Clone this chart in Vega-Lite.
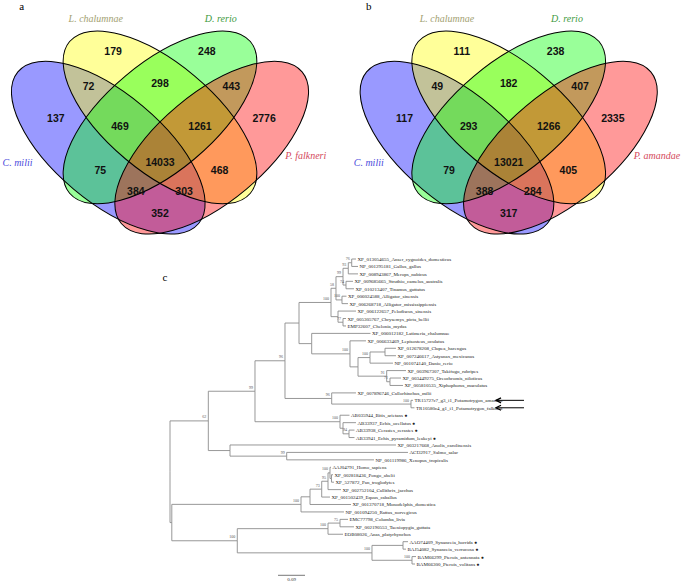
{
  "$schema": "https://vega.github.io/schema/vega-lite/v6.json",
  "padding": 0,
  "background": "white",
  "spacing": 0,
  "config": {"view": {"stroke": null}},
  "vconcat": [
    {
      "bounds": "flush",
      "spacing": 0,
      "resolve": {"scale": {"x": "independent", "y": "independent", "fill": "independent", "color": "independent"}},
      "hconcat": [
        {
          "width": 342, "height": 250,
          "encoding": {
            "x": {"field": "u", "type": "quantitative", "scale": {"domain": [0.036, 1.0279], "nice": false, "zero": false}, "axis": null},
            "y": {"field": "v", "type": "quantitative", "scale": {"domain": [0.129, 0.9541], "nice": false, "zero": false}, "axis": null}
          },
          "layer": [
            {
              "data": {"values": [{"u": 0.35, "v": 0.47, "set": "C. milii"}, {"u": 0.5, "v": 0.57, "set": "L. chalumnae"}]},
              "mark": {"type": "point", "shape": "M 1 0 C 1 0.2527 0.5523 0.4576 0 0.4576 C -0.5523 0.4576 -1 0.2527 -1 0 C -1 -0.2527 -0.5523 -0.4576 0 -0.4576 C 0.5523 -0.4576 1 -0.2527 1 0 Z", "size": 55696, "angle": 40, "filled": true, "fillOpacity": 0.4, "opacity": 1, "strokeOpacity": 0},
              "encoding": {"fill": {"field": "set", "type": "nominal", "scale": {"domain": ["C. milii", "L. chalumnae", "D. rerio", "P. falkneri"], "range": ["#0000ff", "#ffff00", "#00ff00", "#ff0000"]}, "legend": null}}
            },
            {
              "data": {"values": [{"u": 0.5, "v": 0.57, "set": "D. rerio"}, {"u": 0.65, "v": 0.47, "set": "P. falkneri"}]},
              "mark": {"type": "point", "shape": "M 1 0 C 1 0.2527 0.5523 0.4576 0 0.4576 C -0.5523 0.4576 -1 0.2527 -1 0 C -1 -0.2527 -0.5523 -0.4576 0 -0.4576 C 0.5523 -0.4576 1 -0.2527 1 0 Z", "size": 55696, "angle": -40, "filled": true, "fillOpacity": 0.4, "opacity": 1, "strokeOpacity": 0},
              "encoding": {"fill": {"field": "set", "type": "nominal", "scale": {"domain": ["C. milii", "L. chalumnae", "D. rerio", "P. falkneri"], "range": ["#0000ff", "#ffff00", "#00ff00", "#ff0000"]}, "legend": null}}
            },
            {
              "data": {"values": [{"u": 0.35, "v": 0.47, "set": "C. milii"}, {"u": 0.5, "v": 0.57, "set": "L. chalumnae"}]},
              "mark": {"type": "point", "shape": "M 1 0 C 1 0.2527 0.5523 0.4576 0 0.4576 C -0.5523 0.4576 -1 0.2527 -1 0 C -1 -0.2527 -0.5523 -0.4576 0 -0.4576 C 0.5523 -0.4576 1 -0.2527 1 0 Z", "size": 55696, "angle": 40, "filled": false, "stroke": "#000000", "strokeWidth": 1, "opacity": 1}
            },
            {
              "data": {"values": [{"u": 0.5, "v": 0.57, "set": "D. rerio"}, {"u": 0.65, "v": 0.47, "set": "P. falkneri"}]},
              "mark": {"type": "point", "shape": "M 1 0 C 1 0.2527 0.5523 0.4576 0 0.4576 C -0.5523 0.4576 -1 0.2527 -1 0 C -1 -0.2527 -0.5523 -0.4576 0 -0.4576 C 0.5523 -0.4576 1 -0.2527 1 0 Z", "size": 55696, "angle": -40, "filled": false, "stroke": "#000000", "strokeWidth": 1, "opacity": 1}
            },
            {
              "data": {"values": [
                {"u": 0.364, "v": 0.7868, "n": "179"}, {"u": 0.636, "v": 0.7868, "n": "248"},
                {"u": 0.293, "v": 0.6703, "n": "72"}, {"u": 0.5, "v": 0.6792, "n": "298"}, {"u": 0.707, "v": 0.6703, "n": "443"},
                {"u": 0.198, "v": 0.5653, "n": "137"}, {"u": 0.384, "v": 0.5383, "n": "469"}, {"u": 0.616, "v": 0.5383, "n": "1261"}, {"u": 0.802, "v": 0.5653, "n": "2776"},
                {"u": 0.5, "v": 0.4185, "n": "14033"}, {"u": 0.327, "v": 0.3931, "n": "75"}, {"u": 0.673, "v": 0.3931, "n": "468"},
                {"u": 0.43, "v": 0.3224, "n": "384"}, {"u": 0.57, "v": 0.3224, "n": "303"}, {"u": 0.5, "v": 0.2502, "n": "352"}
              ]},
              "mark": {"type": "text", "font": "Liberation Sans", "fontSize": 10.5, "fontWeight": "bold", "color": "#111111", "align": "center", "baseline": "middle"},
              "encoding": {"text": {"field": "n", "type": "nominal"}}
            },
            {
              "data": {"values": [
                {"u": 0.0867, "v": 0.4205, "lab": "C. milii"}, {"u": 0.3138, "v": 0.8937, "lab": "L. chalumnae"},
                {"u": 0.6763, "v": 0.8937, "lab": "D. rerio"}, {"u": 0.9229, "v": 0.4426, "lab": "P. falkneri"}
              ]},
              "mark": {"type": "text", "font": "Liberation Serif", "fontSize": 10, "fontStyle": "italic", "align": "center", "baseline": "middle"},
              "encoding": {
                "text": {"field": "lab", "type": "nominal"},
                "color": {"field": "lab", "type": "nominal", "scale": {"domain": ["C. milii", "L. chalumnae", "D. rerio", "P. falkneri"], "range": ["#4b4bdc", "#a39f72", "#3f9b3f", "#d44a5c"]}, "legend": null}
              }
            },
            {
              "data": {"values": [{"u": 0.0989, "v": 0.9343, "t": "a"}]},
              "mark": {"type": "text", "font": "Liberation Serif", "fontSize": 11, "color": "#000000", "align": "center", "baseline": "middle"},
              "encoding": {"text": {"field": "t", "type": "nominal"}}
            }
          ]
        },
        {
          "width": 343, "height": 250,
          "encoding": {
            "x": {"field": "u", "type": "quantitative", "scale": {"domain": [0.01653, 1.01131], "nice": false, "zero": false}, "axis": null},
            "y": {"field": "v", "type": "quantitative", "scale": {"domain": [0.129, 0.9541], "nice": false, "zero": false}, "axis": null}
          },
          "layer": [
            {
              "data": {"values": [{"u": 0.35, "v": 0.47, "set": "C. milii"}, {"u": 0.5, "v": 0.57, "set": "L. chalumnae"}]},
              "mark": {"type": "point", "shape": "M 1 0 C 1 0.2527 0.5523 0.4576 0 0.4576 C -0.5523 0.4576 -1 0.2527 -1 0 C -1 -0.2527 -0.5523 -0.4576 0 -0.4576 C 0.5523 -0.4576 1 -0.2527 1 0 Z", "size": 55696, "angle": 40, "filled": true, "fillOpacity": 0.4, "opacity": 1, "strokeOpacity": 0},
              "encoding": {"fill": {"field": "set", "type": "nominal", "scale": {"domain": ["C. milii", "L. chalumnae", "D. rerio", "P. amandae"], "range": ["#0000ff", "#ffff00", "#00ff00", "#ff0000"]}, "legend": null}}
            },
            {
              "data": {"values": [{"u": 0.5, "v": 0.57, "set": "D. rerio"}, {"u": 0.65, "v": 0.47, "set": "P. amandae"}]},
              "mark": {"type": "point", "shape": "M 1 0 C 1 0.2527 0.5523 0.4576 0 0.4576 C -0.5523 0.4576 -1 0.2527 -1 0 C -1 -0.2527 -0.5523 -0.4576 0 -0.4576 C 0.5523 -0.4576 1 -0.2527 1 0 Z", "size": 55696, "angle": -40, "filled": true, "fillOpacity": 0.4, "opacity": 1, "strokeOpacity": 0},
              "encoding": {"fill": {"field": "set", "type": "nominal", "scale": {"domain": ["C. milii", "L. chalumnae", "D. rerio", "P. amandae"], "range": ["#0000ff", "#ffff00", "#00ff00", "#ff0000"]}, "legend": null}}
            },
            {
              "data": {"values": [{"u": 0.35, "v": 0.47, "set": "C. milii"}, {"u": 0.5, "v": 0.57, "set": "L. chalumnae"}]},
              "mark": {"type": "point", "shape": "M 1 0 C 1 0.2527 0.5523 0.4576 0 0.4576 C -0.5523 0.4576 -1 0.2527 -1 0 C -1 -0.2527 -0.5523 -0.4576 0 -0.4576 C 0.5523 -0.4576 1 -0.2527 1 0 Z", "size": 55696, "angle": 40, "filled": false, "stroke": "#000000", "strokeWidth": 1, "opacity": 1}
            },
            {
              "data": {"values": [{"u": 0.5, "v": 0.57, "set": "D. rerio"}, {"u": 0.65, "v": 0.47, "set": "P. amandae"}]},
              "mark": {"type": "point", "shape": "M 1 0 C 1 0.2527 0.5523 0.4576 0 0.4576 C -0.5523 0.4576 -1 0.2527 -1 0 C -1 -0.2527 -0.5523 -0.4576 0 -0.4576 C 0.5523 -0.4576 1 -0.2527 1 0 Z", "size": 55696, "angle": -40, "filled": false, "stroke": "#000000", "strokeWidth": 1, "opacity": 1}
            },
            {
              "data": {"values": [
                {"u": 0.364, "v": 0.7868, "n": "111"}, {"u": 0.636, "v": 0.7868, "n": "238"},
                {"u": 0.293, "v": 0.6703, "n": "49"}, {"u": 0.5, "v": 0.6792, "n": "182"}, {"u": 0.707, "v": 0.6703, "n": "407"},
                {"u": 0.198, "v": 0.5653, "n": "117"}, {"u": 0.384, "v": 0.5383, "n": "293"}, {"u": 0.616, "v": 0.5383, "n": "1266"}, {"u": 0.802, "v": 0.5653, "n": "2335"},
                {"u": 0.5, "v": 0.4185, "n": "13021"}, {"u": 0.327, "v": 0.3931, "n": "79"}, {"u": 0.673, "v": 0.3931, "n": "405"},
                {"u": 0.43, "v": 0.3224, "n": "388"}, {"u": 0.57, "v": 0.3224, "n": "284"}, {"u": 0.5, "v": 0.2502, "n": "317"}
              ]},
              "mark": {"type": "text", "font": "Liberation Sans", "fontSize": 10.5, "fontWeight": "bold", "color": "#111111", "align": "center", "baseline": "middle"},
              "encoding": {"text": {"field": "n", "type": "nominal"}}
            },
            {
              "data": {"values": [
                {"u": 0.094, "v": 0.4205, "lab": "C. milii"}, {"u": 0.321, "v": 0.8937, "lab": "L. chalumnae"},
                {"u": 0.669, "v": 0.8937, "lab": "D. rerio"}, {"u": 0.93, "v": 0.4426, "lab": "P. amandae"}
              ]},
              "mark": {"type": "text", "font": "Liberation Serif", "fontSize": 10, "fontStyle": "italic", "align": "center", "baseline": "middle"},
              "encoding": {
                "text": {"field": "lab", "type": "nominal"},
                "color": {"field": "lab", "type": "nominal", "scale": {"domain": ["C. milii", "L. chalumnae", "D. rerio", "P. amandae"], "range": ["#4b4bdc", "#a39f72", "#3f9b3f", "#d44a5c"]}, "legend": null}
              }
            },
            {
              "data": {"values": [{"u": 0.094, "v": 0.9343, "t": "b"}]},
              "mark": {"type": "text", "font": "Liberation Serif", "fontSize": 11, "color": "#000000", "align": "center", "baseline": "middle"},
              "encoding": {"text": {"field": "t", "type": "nominal"}}
            }
          ]
        }
      ]
    },
    {
      "width": 685, "height": 333,
      "encoding": {
        "x": {"field": "x", "type": "quantitative", "scale": {"domain": [-0.5667, 1.7167], "nice": false, "zero": false}, "axis": null},
        "y": {"field": "y", "type": "quantitative", "scale": {"domain": [-0.0754, 44.688], "nice": false, "zero": false, "reverse": true}, "axis": null}
      },
      "layer": [
        {
          "data": {"name": "edges", "values": [
            {"px": 0, "py": 29.6, "cx": 0.1277, "cy": 22.764}, {"px": 0, "py": 29.6, "cx": 0.006, "cy": 36.43},
            {"px": 0.1277, "py": 22.764, "cx": 0.2833, "cy": 18.777}, {"px": 0.1277, "py": 22.764, "cx": 0.2, "cy": 26.75},
            {"px": 0.2833, "py": 18.777, "cx": 0.3833, "cy": 14.68}, {"px": 0.2833, "py": 18.777, "cx": 0.5667, "cy": 22.875},
            {"px": 0.3833, "py": 14.68, "cx": 0.43, "cy": 9.609}, {"px": 0.3833, "py": 14.68, "cx": 0.539, "cy": 19.75},
            {"px": 0.43, "py": 9.609, "cx": 0.5367, "cy": 6.844}, {"px": 0.43, "py": 9.609, "cx": 0.4723, "cy": 12.375},
            {"px": 0.5367, "py": 6.844, "cx": 0.5533, "cy": 4.938}, {"px": 0.5367, "py": 6.844, "cx": 0.56, "cy": 8.75},
            {"px": 0.5533, "py": 4.938, "cx": 0.5767, "cy": 3.375}, {"px": 0.5533, "py": 4.938, "cx": 0.5733, "cy": 6.5},
            {"px": 0.5767, "py": 3.375, "cx": 0.5943, "cy": 2.25}, {"px": 0.5767, "py": 3.375, "cx": 0.5867, "cy": 4.5},
            {"px": 0.5943, "py": 2.25, "cx": 0.6057, "cy": 1.5}, {"px": 0.5943, "py": 2.25, "cx": 0.6267, "cy": 3},
            {"px": 0.6057, "py": 1.5, "cx": 0.62, "cy": 1}, {"px": 0.6057, "py": 1.5, "cx": 0.6267, "cy": 2},
            {"px": 0.5867, "py": 4.5, "cx": 0.61, "cy": 4}, {"px": 0.5867, "py": 4.5, "cx": 0.6133, "cy": 5},
            {"px": 0.5733, "py": 6.5, "cx": 0.5883, "cy": 6}, {"px": 0.5733, "py": 6.5, "cx": 0.5933, "cy": 7},
            {"px": 0.56, "py": 8.75, "cx": 0.62, "cy": 8}, {"px": 0.56, "py": 8.75, "cx": 0.5767, "cy": 9.5},
            {"px": 0.5767, "py": 9.5, "cx": 0.5867, "cy": 9}, {"px": 0.5767, "py": 9.5, "cx": 0.5867, "cy": 10},
            {"px": 0.4723, "py": 12.375, "cx": 0.6683, "cy": 11}, {"px": 0.4723, "py": 12.375, "cx": 0.6, "cy": 13.75},
            {"px": 0.6, "py": 13.75, "cx": 0.6533, "cy": 12}, {"px": 0.6, "py": 13.75, "cx": 0.6267, "cy": 15.5},
            {"px": 0.6267, "py": 15.5, "cx": 0.6667, "cy": 14.25}, {"px": 0.6267, "py": 15.5, "cx": 0.7223, "cy": 16.75},
            {"px": 0.6667, "py": 14.25, "cx": 0.7167, "cy": 13.5}, {"px": 0.6667, "py": 14.25, "cx": 0.7433, "cy": 15},
            {"px": 0.7167, "py": 13.5, "cx": 0.7533, "cy": 13}, {"px": 0.7167, "py": 13.5, "cx": 0.7533, "cy": 14},
            {"px": 0.7223, "py": 16.75, "cx": 0.7867, "cy": 16}, {"px": 0.7223, "py": 16.75, "cx": 0.7333, "cy": 17.5},
            {"px": 0.7333, "py": 17.5, "cx": 0.77, "cy": 17}, {"px": 0.7333, "py": 17.5, "cx": 0.7767, "cy": 18},
            {"px": 0.539, "py": 19.75, "cx": 0.62, "cy": 19}, {"px": 0.539, "py": 19.75, "cx": 0.8033, "cy": 20.5},
            {"px": 0.8033, "py": 20.5, "cx": 0.81, "cy": 20}, {"px": 0.8033, "py": 20.5, "cx": 0.815, "cy": 21},
            {"px": 0.5667, "py": 22.875, "cx": 0.5983, "cy": 22}, {"px": 0.5667, "py": 22.875, "cx": 0.5767, "cy": 23.75},
            {"px": 0.5767, "py": 23.75, "cx": 0.62, "cy": 23}, {"px": 0.5767, "py": 23.75, "cx": 0.5967, "cy": 24.5},
            {"px": 0.5967, "py": 24.5, "cx": 0.615, "cy": 24}, {"px": 0.5967, "py": 24.5, "cx": 0.615, "cy": 25},
            {"px": 0.2, "py": 26.75, "cx": 0.7533, "cy": 26}, {"px": 0.2, "py": 26.75, "cx": 0.389, "cy": 27.5},
            {"px": 0.389, "py": 27.5, "cx": 0.7933, "cy": 27}, {"px": 0.389, "py": 27.5, "cx": 0.68, "cy": 28},
            {"px": 0.006, "py": 36.43, "cx": 0.4367, "cy": 33.984}, {"px": 0.006, "py": 36.43, "cx": 0.2243, "cy": 38.875},
            {"px": 0.4367, "py": 33.984, "cx": 0.4667, "cy": 32.969}, {"px": 0.4367, "py": 33.984, "cx": 0.58, "cy": 35},
            {"px": 0.4667, "py": 32.969, "cx": 0.5057, "cy": 31.938}, {"px": 0.4667, "py": 32.969, "cx": 0.6033, "cy": 34},
            {"px": 0.5057, "py": 31.938, "cx": 0.5267, "cy": 30.875}, {"px": 0.5057, "py": 31.938, "cx": 0.5333, "cy": 33},
            {"px": 0.5267, "py": 30.875, "cx": 0.5333, "cy": 29.75}, {"px": 0.5267, "py": 30.875, "cx": 0.57, "cy": 32},
            {"px": 0.5333, "py": 29.75, "cx": 0.5367, "cy": 29}, {"px": 0.5333, "py": 29.75, "cx": 0.5383, "cy": 30.5},
            {"px": 0.5383, "py": 30.5, "cx": 0.5433, "cy": 30}, {"px": 0.5383, "py": 30.5, "cx": 0.5467, "cy": 31},
            {"px": 0.2243, "py": 38.875, "cx": 0.5267, "cy": 37.25}, {"px": 0.2243, "py": 38.875, "cx": 0.6733, "cy": 40.5},
            {"px": 0.5267, "py": 37.25, "cx": 0.5667, "cy": 36.5}, {"px": 0.5267, "py": 37.25, "cx": 0.5767, "cy": 38},
            {"px": 0.5667, "py": 36.5, "cx": 0.5933, "cy": 36}, {"px": 0.5667, "py": 36.5, "cx": 0.6133, "cy": 37},
            {"px": 0.6733, "py": 40.5, "cx": 0.7767, "cy": 39.5}, {"px": 0.6733, "py": 40.5, "cx": 0.8067, "cy": 41.5},
            {"px": 0.7767, "py": 39.5, "cx": 0.7933, "cy": 39}, {"px": 0.7767, "py": 39.5, "cx": 0.7867, "cy": 40},
            {"px": 0.8067, "py": 41.5, "cx": 0.82, "cy": 41}, {"px": 0.8067, "py": 41.5, "cx": 0.8167, "cy": 42}
          ]},
          "mark": {"type": "rule", "color": "#8c8c8c", "strokeWidth": 0.9},
          "encoding": {
            "x": {"field": "px", "type": "quantitative"},
            "x2": {"field": "cx"},
            "y": {"field": "cy", "type": "quantitative"}
          }
        },
        {
          "data": {"name": "edges"},
          "mark": {"type": "rule", "color": "#8c8c8c", "strokeWidth": 0.9},
          "encoding": {
            "x": {"field": "px", "type": "quantitative"},
            "y": {"field": "py", "type": "quantitative"},
            "y2": {"field": "cy"}
          }
        },
        {
          "data": {"values": [
            {"name": "XP_013054655_Anser_cygnoides_domesticus", "x": 0.62, "y": 1},
            {"name": "NP_001295181_Gallus_gallus", "x": 0.6267, "y": 2},
            {"name": "XP_008943867_Merops_nubicus", "x": 0.6267, "y": 3},
            {"name": "XP_009685665_Struthio_camelus_australis", "x": 0.61, "y": 4},
            {"name": "XP_010213407_Tinamus_guttatus", "x": 0.6133, "y": 5},
            {"name": "XP_006024588_Alligator_sinensis", "x": 0.5883, "y": 6},
            {"name": "XP_006268718_Alligator_mississippiensis", "x": 0.5933, "y": 7},
            {"name": "XP_006122657_Pelodiscus_sinensis", "x": 0.62, "y": 8},
            {"name": "XP_005305767_Chrysemys_picta_bellii", "x": 0.5867, "y": 9},
            {"name": "EMP32607_Chelonia_mydas", "x": 0.5867, "y": 10},
            {"name": "XP_006012182_Latimeria_chalumnae", "x": 0.6683, "y": 11},
            {"name": "XP_006633469_Lepisosteus_oculatus", "x": 0.6533, "y": 12},
            {"name": "XP_012678208_Clupea_harengus", "x": 0.7533, "y": 13},
            {"name": "XP_007246617_Astyanax_mexicanus", "x": 0.7533, "y": 14},
            {"name": "NP_001074140_Danio_rerio", "x": 0.7433, "y": 15},
            {"name": "XP_003967307_Takifugu_rubripes", "x": 0.7867, "y": 16},
            {"name": "XP_003449275_Oreochromis_niloticus", "x": 0.77, "y": 17},
            {"name": "XP_005810535_Xiphophorus_maculatus", "x": 0.7767, "y": 18},
            {"name": "XP_007896746_Callorhinchus_milii", "x": 0.62, "y": 19},
            {"name": "TR15727c7_g3_i1_Potamotrygon_amandae", "x": 0.81, "y": 20},
            {"name": "TR10580c4_g1_i1_Potamotrygon_falkneri", "x": 0.815, "y": 21},
            {"name": "AB035944_Bitis_arietans ●", "x": 0.5983, "y": 22},
            {"name": "AB33937_Echis_ocellatus ●", "x": 0.62, "y": 23},
            {"name": "AB33938_Cerastes_cerastes ●", "x": 0.615, "y": 24},
            {"name": "AB33941_Echis_pyramidum_leakeyi ●", "x": 0.615, "y": 25},
            {"name": "XP_003217668_Anolis_carolinensis", "x": 0.7533, "y": 26},
            {"name": "ACI32917_Salmo_salar", "x": 0.7933, "y": 27},
            {"name": "NP_001119986_Xenopus_tropicalis", "x": 0.68, "y": 28},
            {"name": "AAJ04791_Homo_sapiens", "x": 0.5367, "y": 29},
            {"name": "XP_002818436_Pongo_abelii", "x": 0.5433, "y": 30},
            {"name": "XP_527872_Pan_troglodytes", "x": 0.5467, "y": 31},
            {"name": "XP_002752104_Callithrix_jacchus", "x": 0.57, "y": 32},
            {"name": "XP_001502439_Equus_caballus", "x": 0.5333, "y": 33},
            {"name": "XP_001370718_Monodelphis_domestica", "x": 0.6033, "y": 34},
            {"name": "NP_001094250_Rattus_norvegicus", "x": 0.58, "y": 35},
            {"name": "EMC77798_Columba_livia", "x": 0.5933, "y": 36},
            {"name": "XP_002190553_Taeniopygia_guttata", "x": 0.6133, "y": 37},
            {"name": "EOB08026_Anas_platyrhynchos", "x": 0.5767, "y": 38},
            {"name": "AAO74409_Synanceia_horrida ●", "x": 0.7933, "y": 39},
            {"name": "BAJ54082_Synanceia_verrucosa ●", "x": 0.7867, "y": 40},
            {"name": "BAM66299_Pterois_antennata ●", "x": 0.82, "y": 41},
            {"name": "BAM66300_Pterois_volitans ●", "x": 0.8167, "y": 42}
          ]},
          "mark": {"type": "text", "font": "Liberation Serif", "fontSize": 5, "color": "#222222", "align": "left", "baseline": "middle", "dx": 1.5},
          "encoding": {"text": {"field": "name", "type": "nominal"}}
        },
        {
          "data": {"values": [
            {"x": 0.6057, "y": 1.5, "b": "76"}, {"x": 0.5943, "y": 2.25, "b": "93"}, {"x": 0.5767, "y": 3.375, "b": "99"},
            {"x": 0.5867, "y": 4.5, "b": "74"}, {"x": 0.5533, "y": 4.938, "b": "58"}, {"x": 0.5733, "y": 6.5, "b": "100"},
            {"x": 0.5367, "y": 6.844, "b": "100"}, {"x": 0.5767, "y": 9.5, "b": "77"}, {"x": 0.6, "y": 13.75, "b": "100"},
            {"x": 0.6667, "y": 14.25, "b": "100"}, {"x": 0.7223, "y": 16.75, "b": "91"}, {"x": 0.7333, "y": 17.5, "b": "71"},
            {"x": 0.539, "y": 19.75, "b": "96"}, {"x": 0.8033, "y": 20.5, "b": "100"}, {"x": 0.3833, "y": 14.68, "b": "96"},
            {"x": 0.2833, "y": 18.777, "b": "99"}, {"x": 0.1277, "y": 22.764, "b": "62"}, {"x": 0.5667, "y": 22.875, "b": "100"},
            {"x": 0.5967, "y": 24.5, "b": "94"}, {"x": 0.389, "y": 27.5, "b": "99"}, {"x": 0.4367, "y": 33.984, "b": "100"},
            {"x": 0.5057, "y": 31.938, "b": "73"}, {"x": 0.5267, "y": 30.875, "b": "95"}, {"x": 0.5333, "y": 29.75, "b": "100"},
            {"x": 0.5267, "y": 37.25, "b": "100"}, {"x": 0.5667, "y": 36.5, "b": "75"}, {"x": 0.6733, "y": 40.5, "b": "100"},
            {"x": 0.8067, "y": 41.5, "b": "100"}, {"x": 0.2243, "y": 38.875, "b": "100"}
          ]},
          "mark": {"type": "text", "font": "Liberation Serif", "fontSize": 4, "color": "#555555", "align": "right", "baseline": "bottom", "dx": -2, "dy": -1.5},
          "encoding": {"text": {"field": "b", "type": "nominal"}}
        },
        {
          "data": {"name": "arrows", "values": [{"x": 1.0867, "x2": 1.18, "y": 20}, {"x": 1.0867, "x2": 1.18, "y": 21}]},
          "mark": {"type": "rule", "color": "#000000", "strokeWidth": 1},
          "encoding": {"x": {"field": "x", "type": "quantitative"}, "x2": {"field": "x2"}, "y": {"field": "y", "type": "quantitative"}}
        },
        {
          "data": {"name": "arrows"},
          "mark": {"type": "point", "shape": "M 5 -2.5 L 0 0 L 5 2.5", "size": 4, "filled": false, "stroke": "#000000", "strokeWidth": 1.3, "opacity": 1},
          "encoding": {"x": {"field": "x", "type": "quantitative"}, "y": {"field": "y", "type": "quantitative"}}
        },
        {
          "data": {"values": [{"x": 0.36, "x2": 0.45, "y": 43.52}]},
          "mark": {"type": "rule", "color": "#555555", "strokeWidth": 0.8},
          "encoding": {"x": {"field": "x", "type": "quantitative"}, "x2": {"field": "x2"}, "y": {"field": "y", "type": "quantitative"}}
        },
        {
          "data": {"values": [{"x": 0.405, "y": 43.52, "t": "0.09"}]},
          "mark": {"type": "text", "font": "Liberation Serif", "fontSize": 5, "color": "#333333", "align": "center", "baseline": "top", "dy": 1.5},
          "encoding": {"text": {"field": "t", "type": "nominal"}}
        },
        {
          "data": {"values": [{"x": -0.0167, "y": 3.51, "t": "c"}]},
          "mark": {"type": "text", "font": "Liberation Serif", "fontSize": 11, "color": "#000000", "align": "center", "baseline": "middle"},
          "encoding": {"text": {"field": "t", "type": "nominal"}}
        }
      ]
    }
  ]
}
